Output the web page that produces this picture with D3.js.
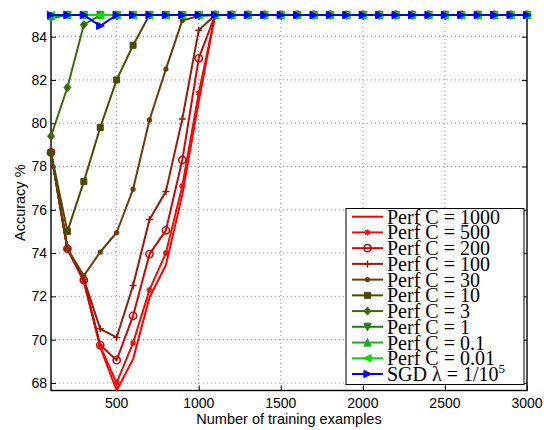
<!DOCTYPE html>
<html><head><meta charset="utf-8">
<script src="https://cdn.jsdelivr.net/npm/d3@7"></script>
<style>body{margin:0;background:#fff}svg{display:block}</style>
</head><body>
<svg id="c" width="544" height="430"></svg>
<script>
const xValues = [100,200,300,400,500,600,700,800,900,1000,1100,1200,1300,1400,1500,1600,1700,1800,1900,2000,2100,2200,2300,2400,2500,2600,2700,2800,2900,3000];
const perfC1000 = [78.65,74.2,72.7,69.65,67.65,69.1,71.95,73.45,76.7,81.0,85,85,85,85,85,85,85,85,85,85,85,85,85,85,85,85,85,85,85,85];
const perfC500  = [78.65,74.2,72.7,69.7,68.0,69.85,72.3,74.0,77.1,81.4,85,85,85,85,85,85,85,85,85,85,85,85,85,85,85,85,85,85,85,85];
const perfC200  = [78.65,74.2,72.75,69.75,69.05,71.1,73.95,75.05,78.3,83.0,85,85,85,85,85,85,85,85,85,85,85,85,85,85,85,85,85,85,85,85];
const perfC100  = [78.65,74.2,72.8,70.5,70.1,72.5,75.55,76.85,80.2,84.3,85,85,85,85,85,85,85,85,85,85,85,85,85,85,85,85,85,85,85,85];
const perfC30   = [78.65,74.2,72.95,74.05,74.95,76.95,80.15,82.5,84.75,84.95,85,85,85,85,85,85,85,85,85,85,85,85,85,85,85,85,85,85,85,85];
const perfC10   = [78.65,75.0,77.3,79.8,82.0,83.6,85,85,85,85,85,85,85,85,85,85,85,85,85,85,85,85,85,85,85,85,85,85,85,85];
const perfC3    = [79.4,81.65,84.55,85,85,85,85,85,85,85,85,85,85,85,85,85,85,85,85,85,85,85,85,85,85,85,85,85,85,85];
const perfC1    = [84.85,85,85,85,85,85,85,85,85,85,85,85,85,85,85,85,85,85,85,85,85,85,85,85,85,85,85,85,85,85];
const perfC01   = [84.95,85,85,85,85,85,85,85,85,85,85,85,85,85,85,85,85,85,85,85,85,85,85,85,85,85,85,85,85,85];
const perfC001  = [85,85,85,85,85,85,85,85,85,85,85,85,85,85,85,85,85,85,85,85,85,85,85,85,85,85,85,85,85,85];
const sgd       = [85,85,85,84.5,85,85,85,85,85,85,85,85,85,85,85,85,85,85,85,85,85,85,85,85,85,85,85,85,85,85];
const xTicks = [500,1000,1500,2000,2500,3000];
const yTicks = [68,70,72,74,76,78,80,82,84];
const seriesNames = ["Perf C = 1000","Perf C = 500","Perf C = 200","Perf C = 100","Perf C = 30","Perf C = 10","Perf C = 3","Perf C = 1","Perf C = 0.1","Perf C = 0.01","SGD"];

const series = [
  {name:seriesNames[0], values:perfC1000, color:"#ff0000", marker:"none"},
  {name:seriesNames[1], values:perfC500,  color:"#e8100a", marker:"star"},
  {name:seriesNames[2], values:perfC200,  color:"#c80a0a", marker:"circle"},
  {name:seriesNames[3], values:perfC100,  color:"#961c05", marker:"plus"},
  {name:seriesNames[4], values:perfC30,   color:"#6e3a06", marker:"dot"},
  {name:seriesNames[5], values:perfC10,   color:"#4b4b00", marker:"square"},
  {name:seriesNames[6], values:perfC3,    color:"#3a6a08", marker:"diamond"},
  {name:seriesNames[7], values:perfC1,    color:"#1f8012", marker:"dtri"},
  {name:seriesNames[8], values:perfC01,   color:"#20aa20", marker:"utri"},
  {name:seriesNames[9], values:perfC001,  color:"#00e000", marker:"ltri"},
  {name:seriesNames[10],values:sgd,       color:"#0000ff", marker:"rtri"}
];

const svg = d3.select("#c");
const L=51, R=527, T=15, B=390.5;
const x = d3.scaleLinear().domain([100,3000]).range([L,R]);
const y = d3.scaleLinear().domain([67.65,85]).range([B,T]);
const sans = "Liberation Sans, Arial, Helvetica, sans-serif";

// grid
const g = svg.append("g");
g.selectAll(".gx").data(xTicks.filter(d=>d<3000)).enter().append("line")
  .attr("x1",d=>x(d)).attr("x2",d=>x(d)).attr("y1",T).attr("y2",B)
  .attr("stroke","#9a9a9a").attr("stroke-width",1).attr("stroke-dasharray","1,3");
g.selectAll(".gy").data(yTicks).enter().append("line")
  .attr("x1",L).attr("x2",R).attr("y1",d=>y(d)).attr("y2",d=>y(d))
  .attr("stroke","#9a9a9a").attr("stroke-width",1).attr("stroke-dasharray","1,3");

// axes box with inward ticks
const ax = svg.append("g");
const xAxisB = d3.axisBottom(x).tickValues(xTicks).tickSize(-5).tickFormat("");
const xAxisT = d3.axisTop(x).tickValues(xTicks).tickSize(-5).tickFormat("");
const yAxisL = d3.axisLeft(y).tickValues(yTicks).tickSize(-5).tickFormat("");
const yAxisR = d3.axisRight(y).tickValues(yTicks).tickSize(-5).tickFormat("");
ax.append("g").attr("transform",`translate(0,${B})`).call(xAxisB);
ax.append("g").attr("transform",`translate(0,${T})`).call(xAxisT);
ax.append("g").attr("transform",`translate(${L},0)`).call(yAxisL);
ax.append("g").attr("transform",`translate(${R},0)`).call(yAxisR);
ax.selectAll(".domain").attr("stroke","#000").attr("stroke-width",1.4).attr("d",null);
ax.selectAll("path.domain").remove();
ax.append("rect").attr("x",L).attr("y",T).attr("width",R-L).attr("height",B-T)
  .attr("fill","none").attr("stroke","#000").attr("stroke-width",1.4);
ax.selectAll(".tick line").attr("stroke","#000").attr("stroke-width",1);

// tick labels
svg.append("g").selectAll("text").data(xTicks).enter().append("text")
  .attr("x",d=>x(d)).attr("y",408).attr("text-anchor","middle")
  .attr("font-family",sans).attr("font-size",14).text(d=>d);
svg.append("g").selectAll("text").data(yTicks).enter().append("text")
  .attr("x",47).attr("y",d=>y(d)+5).attr("text-anchor","end")
  .attr("font-family",sans).attr("font-size",14).text(d=>d);
svg.append("text").attr("x",(L+R)/2).attr("y",424).attr("text-anchor","middle")
  .attr("font-family",sans).attr("font-size",14.5).text("Number of training examples");
svg.append("text").attr("transform",`translate(25,${(T+B)/2}) rotate(-90)`).attr("text-anchor","middle")
  .attr("font-family",sans).attr("font-size",14.5).text("Accuracy %");

// marker drawing
function drawMarker(sel, type, color){
  const r=3.6;
  if(type==="none") return;
  if(type==="circle"){ sel.append("circle").attr("r",3.6).attr("fill","none").attr("stroke",color).attr("stroke-width",1.6); return; }
  if(type==="dot"){ sel.append("circle").attr("r",2.6).attr("fill",color); return; }
  if(type==="plus"){ sel.append("path").attr("d","M-3.5,0H3.5M0,-3.5V3.5").attr("stroke",color).attr("stroke-width",1.5); return; }
  if(type==="star"){ sel.append("path").attr("d","M-3,0H3M0,-3V3M-2.2,-2.2L2.2,2.2M-2.2,2.2L2.2,-2.2").attr("stroke",color).attr("stroke-width",1.4); return; }
  let d;
  if(type==="square") d="M-3,-3H3V3H-3Z";
  if(type==="diamond") d="M0,-4L3.5,0L0,4L-3.5,0Z";
  if(type==="rtri") d=`M${r+0.5},0L${-r},${-r}L${-r},${r}Z`;
  if(type==="ltri") d=`M${-r-0.5},0L${r},${-r}L${r},${r}Z`;
  if(type==="utri") d=`M0,${-r-0.5}L${-r},${r}L${r},${r}Z`;
  if(type==="dtri") d=`M0,${r+0.5}L${-r},${-r}L${r},${-r}Z`;
  sel.append("path").attr("d",d).attr("fill",color).attr("stroke",color).attr("stroke-width",1);
}

// lines
const line = d3.line().x((d,i)=>x(xValues[i])).y(d=>y(d));
series.forEach(s=>{
  const sg = svg.append("g");
  sg.append("path").datum(s.values).attr("d",line).attr("fill","none")
    .attr("stroke",s.color).attr("stroke-width",2).attr("stroke-linejoin","round");
  s.values.forEach((v,i)=>{
    const m = sg.append("g").attr("transform",`translate(${x(xValues[i])},${y(v)})`);
    drawMarker(m, s.marker, s.color);
  });
});

// legend
const lg = svg.append("g");
const lx=346, ly=208.5, lw=178, lh=176;
lg.append("rect").attr("x",lx).attr("y",ly).attr("width",lw).attr("height",lh)
  .attr("fill","#fff").attr("stroke","#000").attr("stroke-width",1);
const serif = "Liberation Serif, Times New Roman, serif";
series.forEach((s,i)=>{
  const cy = 216.7 + i*15.73;
  lg.append("line").attr("x1",352).attr("x2",383).attr("y1",cy).attr("y2",cy)
    .attr("stroke",s.color).attr("stroke-width",2);
  drawMarker(lg.append("g").attr("transform",`translate(367.5,${cy})`), s.marker, s.color);
  const t = lg.append("text").attr("x",387).attr("y",cy+7).attr("font-family",serif).attr("font-size",20).attr("fill","#000");
  if(i<10){ t.text(s.name); }
  else {
    t.append("tspan").text("SGD λ = 1/10");
    t.append("tspan").attr("font-size",13).attr("dy",-8).text("5");
  }
});
</script>
</body></html>
